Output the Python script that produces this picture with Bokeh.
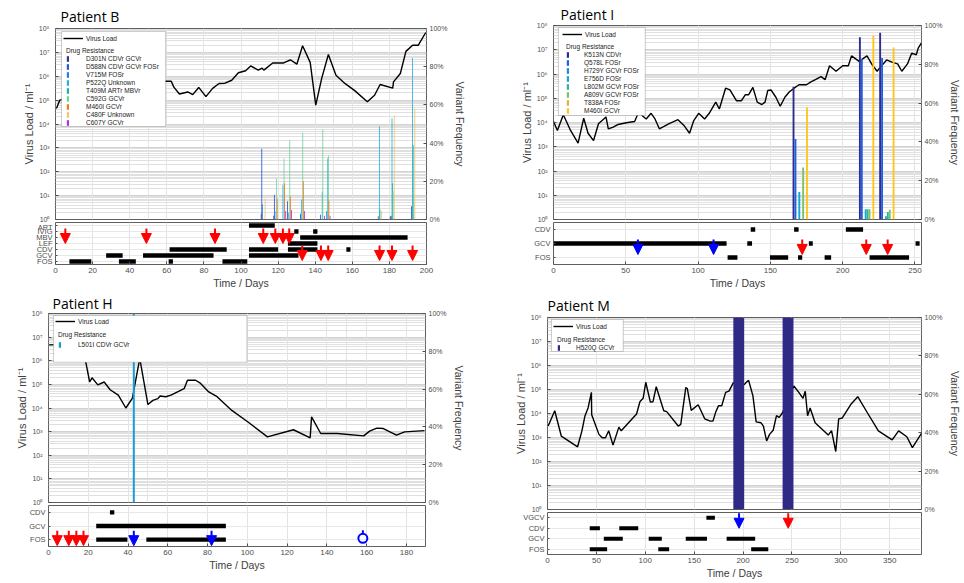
import json
from bokeh.plotting import figure
from bokeh.models import (Range1d, LinearAxis, LinearScale, FixedTicker, CustomJSTickFormatter,
                          PrintfTickFormatter, ColumnDataSource, Legend, LegendItem, Grid,
                          BoxAnnotation, Arrow, NormalHead)
from bokeh.layouts import row, column
from bokeh.embed import file_html
from bokeh.resources import INLINE

# ---------------- Patient B ----------------
b_vl_day = [0.5, 2.3, 30, 59, 62.4, 63.8, 66.8, 71.3, 74, 77.2, 81.1, 84.7, 88.2, 91.4, 95, 98.6,
            102.5, 105.2, 109.3, 111.4, 112.3, 117.1, 123, 126.6, 130.1, 133.2, 137.3, 140.3, 143.5,
            147.1, 151.2, 156, 161.3, 168.1, 172, 175, 181.8, 182.2, 185.9, 188.9, 192.5, 195.6, 199.6]
b_vl = [4.5e4, 1.0e5, 4.0e5, 6.2e5, 6.2e5, 3.5e5, 1.8e5, 2.2e5, 1.7e5, 3.4e5, 1.4e5, 3.1e5, 5.0e5,
        5.1e5, 6.8e5, 1.4e6, 1.7e6, 2.7e6, 1.8e6, 2.2e6, 1.8e6, 3.6e6, 3.6e6, 4.9e6, 3.2e6, 1.9e7,
        3.8e6, 6.2e4, 8.1e5, 8.1e6, 1.1e6, 5.0e5, 2.5e5, 8.5e4, 1.6e5, 4.5e5, 3.2e5, 5.8e5, 1.3e6,
        1.1e7, 2.0e7, 2.0e7, 6.8e7]
b_mutations = ["D301N CDVr GCVr", "D588N CDVr GCVr FOSr", "V715M FOSr", "P522Q Unknown",
               "T409M ARTr MBVr", "C592G GCVr", "M460I GCVr", "C480F Unknown", "C607Y GCVr"]
b_sample_day = [112.1, 118.9, 122.9, 126.0, 133.0, 143.8, 146.8, 174.9, 181.7, 192.8]
b_freq = [
    [3, 2, 0, 0, 0, 0, 0, 0, 1.7, 0],
    [37, 13, 0, 9.5, 3, 2.5, 0, 1.7, 0, 7],
    [8, 4.5, 0, 0, 0, 0, 4.5, 0, 2, 0],
    [0, 0, 18, 3.5, 10.5, 0, 0, 48.8, 53, 84.6],
    [0, 0, 0, 0, 0, 14.5, 32, 5.2, 19, 39],
    [0, 21.5, 32, 41.5, 45.5, 47, 33.5, 0, 15, 10.5],
    [0, 11, 19, 12, 20, 0, 10, 0, 0, 0],
    [11, 0, 0, 0, 0, 0, 0, 4.4, 54.5, 58],
    [0, 0, 4.5, 5, 4.5, 2, 2, 0, 0, 0],
]
b_drugs = ["FOS", "GCV", "CDV", "LEF", "MBV", "IVIG", "ART"]
b_tx_drug = ["ART", "IVIG", "IVIG", "MBV", "LEF", "CDV", "CDV", "CDV", "CDV",
             "GCV", "GCV", "GCV", "FOS", "FOS", "FOS", "FOS"]
b_tx_start = [104.3, 128.7, 138.9, 131.9, 125.3, 61.5, 104.3, 125.3, 156.8,
              27.3, 47.2, 104.3, 7.5, 34.2, 61.0, 90.0]
b_tx_end = [118.2, 131.0, 141.2, 189.8, 141.2, 92.3, 120.0, 141.2, 159.0,
            36.2, 85.2, 131.0, 19.3, 43.3, 63.3, 103.4]
b_red_day = [5.3, 49, 86, 112, 118.5, 122.6, 126, 133, 143.1, 147, 174.7, 181.4, 192.5]
b_red_to = ["LEF", "LEF", "LEF", "LEF", "LEF", "LEF", "LEF", "FOS", "FOS", "FOS", "FOS", "FOS", "FOS"]

# ---------------- Patient I ----------------
i_vl_day = [0, 2.7, 6.8, 11.8, 17, 20.9, 23.9, 27.7, 31.1, 36.3, 37.9, 41.3, 44.7, 50.4, 56.1, 58.8,
            64.1, 67.5, 70.2, 73.2, 80, 86.1, 90.2, 94.1, 97, 100.4, 104.5, 107.7, 112.2, 114.7, 119,
            122, 126.5, 130, 132.7, 135, 137.9, 140.9, 144.1, 146.3, 148.2, 150.4, 153.8, 156.8, 160,
            163, 166.4, 169.8, 172, 175, 177.7, 181.1, 185, 187.9, 190.9, 195.4, 200, 203.9, 206.1,
            211.4, 216.8, 220.4, 223.8, 226.6, 230.4, 234.5, 238, 240.9, 244.8, 247.7, 250.9, 252.3, 254.5]
i_vl = [1.1e4, 4.7e3, 2.1e4, 4.7e3, 1.4e3, 1.5e4, 3.6e3, 1.8e3, 8.9e3, 1.7e4, 5.5e3, 6.5e3, 8.3e3,
        9.8e3, 1.1e4, 2.6e4, 1.4e4, 2.4e4, 1.4e4, 5.5e3, 8.9e3, 1.3e4, 7.6e3, 3.6e3, 1.2e4, 2.4e4,
        1.4e4, 2.4e4, 6.9e4, 3.6e4, 2.6e5, 2.2e5, 7.9e4, 7.9e4, 1.4e5, 1.4e5, 2.8e5, 6.9e4, 5.5e4,
        6.9e4, 2.1e5, 2.2e5, 1.1e5, 4.7e4, 1.1e5, 1.8e5, 2.6e5, 3.6e5, 3.6e5, 3.6e5, 4.6e5, 5.9e5,
        7.8e5, 5.9e5, 2.2e6, 1.3e6, 2.2e6, 2.2e6, 5.6e6, 3.3e6, 5.6e6, 2.4e6, 1.3e6, 2.1e6, 3.8e6,
        3.0e6, 2.6e6, 1.3e6, 2.6e6, 7.2e6, 6.2e6, 1.2e7, 1.9e7]
i_mutations = ["K513N CDVr", "Q578L FOSr", "H729Y GCVr FOSr", "E756D FOSr",
               "L802M GCVr FOSr", "A809V GCVr FOSr", "T838A FOSr", "M460I GCVr"]
i_sample_day = [170.65, 216.55, 230.55]
i_freq = [
    [68.4, 94.0, 96.2],
    [41.5, 82.8, 83.3],
    [0, 0, 0],
    [14.2, 5.3, 1.7],
    [0, 5.3, 3.9],
    [26.8, 5.3, 5.0],
    [0, 0, 0],
    [57.7, 94.9, 88.7],
]
i_drugs = ["FOS", "GCV", "CDV"]
i_tx_drug = ["CDV", "CDV", "CDV", "GCV", "GCV", "GCV", "GCV", "FOS", "FOS", "FOS", "FOS", "FOS"]
i_tx_start = [136.4, 166.4, 202.2, 0, 134.0, 176.6, 250.4, 120.4, 149.7, 169.1, 187.5, 218.6]
i_tx_end = [139.5, 169.5, 214.1, 119.7, 137.3, 179.3, 253.2, 127.2, 162.3, 172.0, 192.0, 245.9]
i_blue_day = [58.4, 110.7]
i_blue_to = ["FOS", "FOS"]
i_red_day = [172, 216.3, 231.1]
i_red_to = ["FOS", "FOS", "FOS"]

# ---------------- Patient H ----------------
h_vl_day = [0.3, 17, 20.7, 21.9, 24.8, 28, 31, 35.1, 38.9, 42.2, 45.9, 50, 52.5, 55, 56.1, 59, 61.6,
            64.9, 68.2, 69.9, 74, 76.5, 80.6, 84.8, 92.2, 100.5, 110.1, 123.2, 131.6, 132.3, 136.9,
            145.2, 158.5, 161.5, 165.1, 168.4, 175, 179.1, 189.1]
h_vl = [4.7e6, 5.0e6, 1.26e5, 1.9e5, 9.5e4, 1.26e5, 5.9e4, 3.5e4, 1.0e4, 2.6e4, 1.26e6, 1.4e4, 2.1e4,
        2.5e4, 3.2e4, 3.0e4, 3.5e4, 4.8e4, 6.6e4, 1.5e5, 1.5e5, 1.1e5, 4.8e4, 3.0e4, 7.9e3, 2.5e3,
        6.0e2, 1.2e3, 5.5e2, 4.2e3, 8.3e2, 8.3e2, 6.6e2, 1.05e3, 1.4e3, 1.35e3, 7.1e2, 9.8e2, 1.1e3]
h_mutations = ["L501I CDVr GCVr"]
h_sample_day = [42.9]
h_freq = [[100.0]]
h_drugs = ["FOS", "GCV", "CDV"]
h_tx_drug = ["CDV", "GCV", "FOS", "FOS"]
h_tx_start = [30.9, 24.0, 24.0, 49.2]
h_tx_end = [33.1, 89.2, 39.7, 89.2]
h_red_day = [4.4, 10.2, 14, 17.6]
h_red_to = ["FOS", "FOS", "FOS", "FOS"]
h_blue_day = [42.9, 82]
h_blue_to = ["FOS", "FOS"]
h_circle_day = [158.1]
h_circle_to = ["FOS"]

# ---------------- Patient M ----------------
m_vl_day = [0.7, 7.4, 14.1, 30.8, 35.2, 38.2, 41.5, 44.9, 45.2, 52.6, 55.9, 59.3, 62.6, 67, 73, 75.4,
            91.1, 94.5, 97.8, 100.5, 105.2, 107.9, 111.2, 118.9, 121.9, 133.7, 136.3, 141.4, 143, 147,
            154.1, 160.8, 166.5, 169.2, 172.2, 174.9, 178.2, 182.2, 185.6, 190, 196, 201.2, 203.3,
            205.7, 210.1, 213.4, 218.4, 220.8, 224.1, 227.1, 230.8, 234.2, 236.9, 240.2, 246, 252,
            257, 261.3, 263.6, 266, 268.6, 273.7, 287.1, 290.5, 294.8, 297.8, 301.5, 310.6, 317.3,
            327.3, 338.4, 352.5, 359.1, 367.5, 373.2, 382.5]
m_vl = [3.0e3, 1.3e4, 1.15e3, 4.1e2, 1.9e3, 7.6e3, 1.7e4, 7.6e4, 8.9e3, 1.35e3, 9.8e2, 9.8e2, 1.9e3,
        4.8e2, 2.7e3, 1.9e3, 9.5e3, 3.1e4, 4.3e4, 2.0e5, 3.0e4, 3.1e4, 1.3e5, 1.3e4, 1.2e4, 3.0e3,
        3.5e3, 1.2e5, 1.1e5, 1.35e4, 2.3e4, 6.0e3, 4.8e3, 4.8e3, 1.2e4, 2.1e4, 2.1e4, 7.6e4, 8.5e4,
        1.9e5, 1.8e5, 1.6e5, 2.0e5, 2.4e5, 5.4e4, 4.5e3, 4.1e3, 3.0e3, 7.2e2, 1.35e3, 2.0e3, 8.1e3,
        6.9e3, 1.05e4, 4.0e4, 1.4e5, 7.6e4, 4.3e4, 8.5e4, 8.1e3, 1.7e4, 4.1e3, 1.26e3, 1.95e3,
        2.6e2, 6.0e3, 6.5e3, 2.5e4, 5.0e4, 1.05e4, 1.9e3, 7.9e2, 1.9e3, 1.07e3, 3.8e2, 1.5e3]
m_mutations = ["H520Q GCVr"]
m_sample_day = [195.6, 246.0]
m_freq = [[100.0, 100.0]]
m_drugs = ["FOS", "GCV", "CDV", "VGCV"]
m_tx_drug = ["VGCV", "CDV", "CDV", "GCV", "GCV", "GCV", "GCV", "FOS", "FOS", "FOS"]
m_tx_start = [162.5, 43.2, 73.4, 57.6, 103.5, 141.4, 183.2, 43.2, 113.3, 208.3]
m_tx_end = [171.2, 53.6, 92.8, 77.0, 116.9, 163.1, 212.4, 61.0, 124.4, 225.8]
m_blue_day = [195.9]
m_blue_to = ["CDV"]
m_red_day = [246.2]
m_red_to = ["CDV"]

# ---------------- styles ----------------
FONT = "Liberation Sans"
TFONT = "Open Sans"
GRAY = "#4d4d4d"
b_colors = ["#35338f", "#2a55d6", "#1f80e0", "#2aaee2", "#1cb3a8", "#72d19e", "#f07a1c", "#f2c46c", "#b52ee2"]
i_colors = ["#2f2c8c", "#1f5fe6", "#1b8ae2", "#11a7cf", "#27b5a3", "#7cc26b", "#e2b13e", "#ffc61e"]
h_colors = ["#1b9ad6"]
m_colors = ["#2f2a85"]

SUP = CustomJSTickFormatter(code="""
const s = {"0":"\u2070","1":"\u00b9","2":"\u00b2","3":"\u00b3","4":"\u2074","5":"\u2075","6":"\u2076","7":"\u2077","8":"\u2078","9":"\u2079","-":"\u207b"};
const e = Math.round(Math.log10(tick));
return "10" + String(e).split("").map(c => s[c]).join("");
""")


def style_axis(ax, size="7px"):
    ax.axis_line_color = None
    ax.major_tick_in = 3
    ax.major_tick_out = 0
    ax.minor_tick_line_color = None
    ax.major_tick_line_color = GRAY
    ax.major_label_text_font = FONT
    ax.major_label_text_font_size = size
    ax.major_label_text_color = GRAY
    ax.axis_label_text_font = FONT
    ax.axis_label_text_font_style = "normal"
    ax.axis_label_text_font_size = "10.5px"
    ax.axis_label_text_color = "#404040"


def panel(title, title_off, title_so, geom, xend, xticks, vl_day, vl, muts, colors, sample_day, freq,
          spacing, bar_w, drugs, tx_drug, tx_start, tx_end, tx_h, arrow_groups, box, legA, legB,
          circles=None):
    lb, fw, rb, tb, mh, th, bb = geom
    xr = Range1d(0, xend)
    p = figure(width=lb + fw + rb, height=tb + mh + 3, x_range=xr, y_range=Range1d(1, 1e8),
               y_axis_type="log", x_axis_location=None, output_backend="svg", toolbar_location=None,
               min_border_left=lb, min_border_right=rb, min_border_top=tb, min_border_bottom=3,
               title=title)
    p.title.text_font = TFONT
    p.title.text_font_size = "14px"
    p.title.text_font_style = "normal"
    p.title.text_color = "black"
    p.title.offset = title_off
    p.title.standoff = title_so
    p.outline_line_color = "#5f5f5f"
    p.outline_line_width = 1
    p.add_layout(Grid(dimension=0, ticker=FixedTicker(ticks=xticks), grid_line_color="#e4e4e4"))
    # left log axis
    ya = p.left[0]
    style_axis(ya)
    ya.ticker = FixedTicker(ticks=[10 ** k for k in range(9)],
                            minor_ticks=[m * 10 ** k for k in range(8) for m in range(2, 10)])
    ya.formatter = SUP
    ya.axis_label = "Virus Load / ml\u207b\u00b9"
    ya.major_label_standoff = 2
    ya.axis_label_standoff = 1
    ya.axis_label_text_font_size = "11px"
    p.ygrid.grid_line_color = "#d2d2d2"
    p.ygrid.minor_grid_line_color = "#e0e0e0"
    # right percent axis (linear scale)
    p.extra_y_ranges = {"freq": Range1d(0, 100)}
    p.extra_y_scales = {"freq": LinearScale()}
    ra = LinearAxis(y_range_name="freq", ticker=FixedTicker(ticks=[0, 20, 40, 60, 80, 100]),
                    formatter=PrintfTickFormatter(format="%d%%"), axis_label="Variant Frequency")
    style_axis(ra)
    ra.major_label_standoff = 3
    ra.axis_label_standoff = 4
    p.add_layout(ra, "right")

    vl_r = p.line(vl_day, vl, line_color="black", line_width=1.4)
    n = len(muts)
    bars = []
    for i in range(n):
        off = (i - (n - 1) / 2) * spacing
        src = ColumnDataSource(dict(x=[d + off for d in sample_day],
                                    top=[float(v) for v in freq[i]]))
        r = p.vbar(x="x", top="top", bottom=0, width=bar_w, source=src,
                   y_range_name="freq", fill_color=colors[i], line_color=None)
        bars.append(r)

    # legend box + legends
    l, t_, r_, b_ = box
    p.add_layout(BoxAnnotation(left=xend * l / fw, right=xend * r_ / fw,
                               top=10 ** (8 - 8 * t_ / mh), bottom=10 ** (8 - 8 * b_ / mh),
                               fill_color="white", fill_alpha=1.0, line_color="#555555",
                               line_width=1, level="annotation"))
    ax_, at_ = legA
    la = Legend(items=[LegendItem(label="Virus Load", renderers=[vl_r])],
                location=(ax_, mh - at_ - 12), glyph_width=20, glyph_height=8, label_height=8,
                padding=2, spacing=0, margin=0, label_standoff=3, border_line_color=None,
                background_fill_alpha=0, label_text_font=FONT, label_text_font_size="6.5px",
                label_text_color="#222222")
    bx, bt, bstand, bts = legB
    hB = 4 + 8 + bts + 8 * n
    lgb = Legend(items=[LegendItem(label=m, renderers=[rr]) for m, rr in zip(muts, bars)],
                 location=(bx, mh - bt - hB), title="Drug Resistance", title_standoff=bts,
                 title_text_font=FONT, title_text_font_size="6.5px", title_text_font_style="normal",
                 title_text_color="#222222",
                 glyph_width=3, glyph_height=7, label_height=8, padding=2, spacing=0, margin=0,
                 label_standoff=bstand, border_line_color=None, background_fill_alpha=0,
                 label_text_font=FONT, label_text_font_size="6.5px", label_text_color="#222222")
    p.add_layout(la)
    p.add_layout(lgb)

    # treatment panel
    nd = len(drugs)
    t = figure(width=lb + fw + rb, height=th + bb, x_range=xr, y_range=Range1d(0.5, nd + 0.5),
               output_backend="svg", toolbar_location=None, title=None,
               min_border_left=lb, min_border_right=rb, min_border_top=0, min_border_bottom=bb)
    t.outline_line_color = "#5f5f5f"
    t.outline_line_width = 1
    txa = t.below[0]
    style_axis(txa, "8px")
    txa.ticker = FixedTicker(ticks=xticks)
    txa.axis_label = "Time / Days"
    txa.major_label_standoff = 3
    txa.axis_label_standoff = 1
    tya = t.left[0]
    style_axis(tya, "7.5px")
    tya.ticker = FixedTicker(ticks=list(range(1, nd + 1)))
    tya.formatter = CustomJSTickFormatter(
        code="const L = %s; const i = Math.round(tick) - 1; return (i >= 0 && i < L.length) ? L[i] : '';"
        % json.dumps(drugs))
    tya.major_tick_in = 2
    tya.major_label_standoff = 3
    t.xgrid.grid_line_color = "#e4e4e4"
    t.ygrid.grid_line_color = "#e8e8e8"
    rows_ = [drugs.index(d) + 1 for d in tx_drug]
    t.hbar(y=rows_, left=tx_start, right=tx_end, height=tx_h, fill_color="black", line_color=None)

    rowpx = th / nd
    for days, targets, col, off in arrow_groups:
        tips = [drugs.index(d) + 1 + off / rowpx for d in targets]
        tails = [y + 15 / rowpx for y in tips]
        src = ColumnDataSource(dict(x=days, y0=tails, y1=tips))
        t.add_layout(Arrow(end=NormalHead(size=10, fill_color=col, line_color=col, line_width=1),
                           x_start="x", y_start="y0", x_end="x", y_end="y1", source=src,
                           line_color=col, line_width=2))
    if circles:
        cdays, ctargets, col, off = circles
        cy = [drugs.index(d) + 1 + off / rowpx for d in ctargets]
        t.segment(x0=cdays, x1=cdays, y0=[y + 4 / rowpx for y in cy], y1=[y + 8 / rowpx for y in cy],
                  line_color=col, line_width=2)
        t.scatter(x=cdays, y=cy, marker="circle", size=9, fill_color=None, line_color=col, line_width=2)
    return column(p, t)


pB = panel("Patient   B", 5, 5, (55, 374, 40, 28, 191, 42, 27), 200, list(range(0, 201, 20)),
           b_vl_day, b_vl, b_mutations, b_colors, b_sample_day, b_freq, 0.3, 0.45,
           b_drugs, b_tx_drug, b_tx_start, b_tx_end, 0.75,
           [(b_red_day[:7], b_red_to[:7], "red", 0), (b_red_day[7:], b_red_to[7:], "red", 1)],
           (6, 3, 111, 98), (8, 2), (11, 14, 17, 0))
pI = panel("Patient   I", 7, 4, (84, 373, 38, 25, 194, 42, 27), 254.5, list(range(0, 251, 50)),
           i_vl_day, i_vl, i_mutations, i_colors, i_sample_day, i_freq, 1.33, 1.3,
           i_drugs, i_tx_drug, i_tx_start, i_tx_end, 0.31,
           [(i_blue_day, i_blue_to, "blue", 3), (i_red_day, i_red_to, "red", 3)],
           (5, 2, 93, 90), (9, 1), (13, 13, 15, 0))
pH = panel("Patient   H", 4, 1, (48, 380, 40, 21, 190, 41, 27), 189.6, list(range(0, 181, 20)),
           h_vl_day, h_vl, h_mutations, h_colors, h_sample_day, h_freq, 0, 1.0,
           h_drugs, h_tx_drug, h_tx_start, h_tx_end, 0.32,
           [(h_red_day, h_red_to, "red", -6), (h_blue_day, h_blue_to, "blue", -6)],
           (5, 2, 200, 49), (7, 1), (10, 14, 17, 2),
           circles=(h_circle_day, h_circle_to, "blue", 1.4))
pM = panel("Patient   M", 0, 5, (79, 380, 37, 26, 192, 42, 27), 382.5, list(range(0, 351, 50)),
           m_vl_day, m_vl, m_mutations, m_colors, m_sample_day, m_freq, 0, 11.1,
           m_drugs, m_tx_drug, m_tx_start, m_tx_end, 0.38,
           [(m_blue_day, m_blue_to, "blue", 0), (m_red_day, m_red_to, "red", 0)],
           (4, 2, 77, 34), (6, 1), (10, 14, 16, 0))

layout = column(row(pB, pI), row(pH, pM))
open("out.html", "w").write(file_html(layout, INLINE))
